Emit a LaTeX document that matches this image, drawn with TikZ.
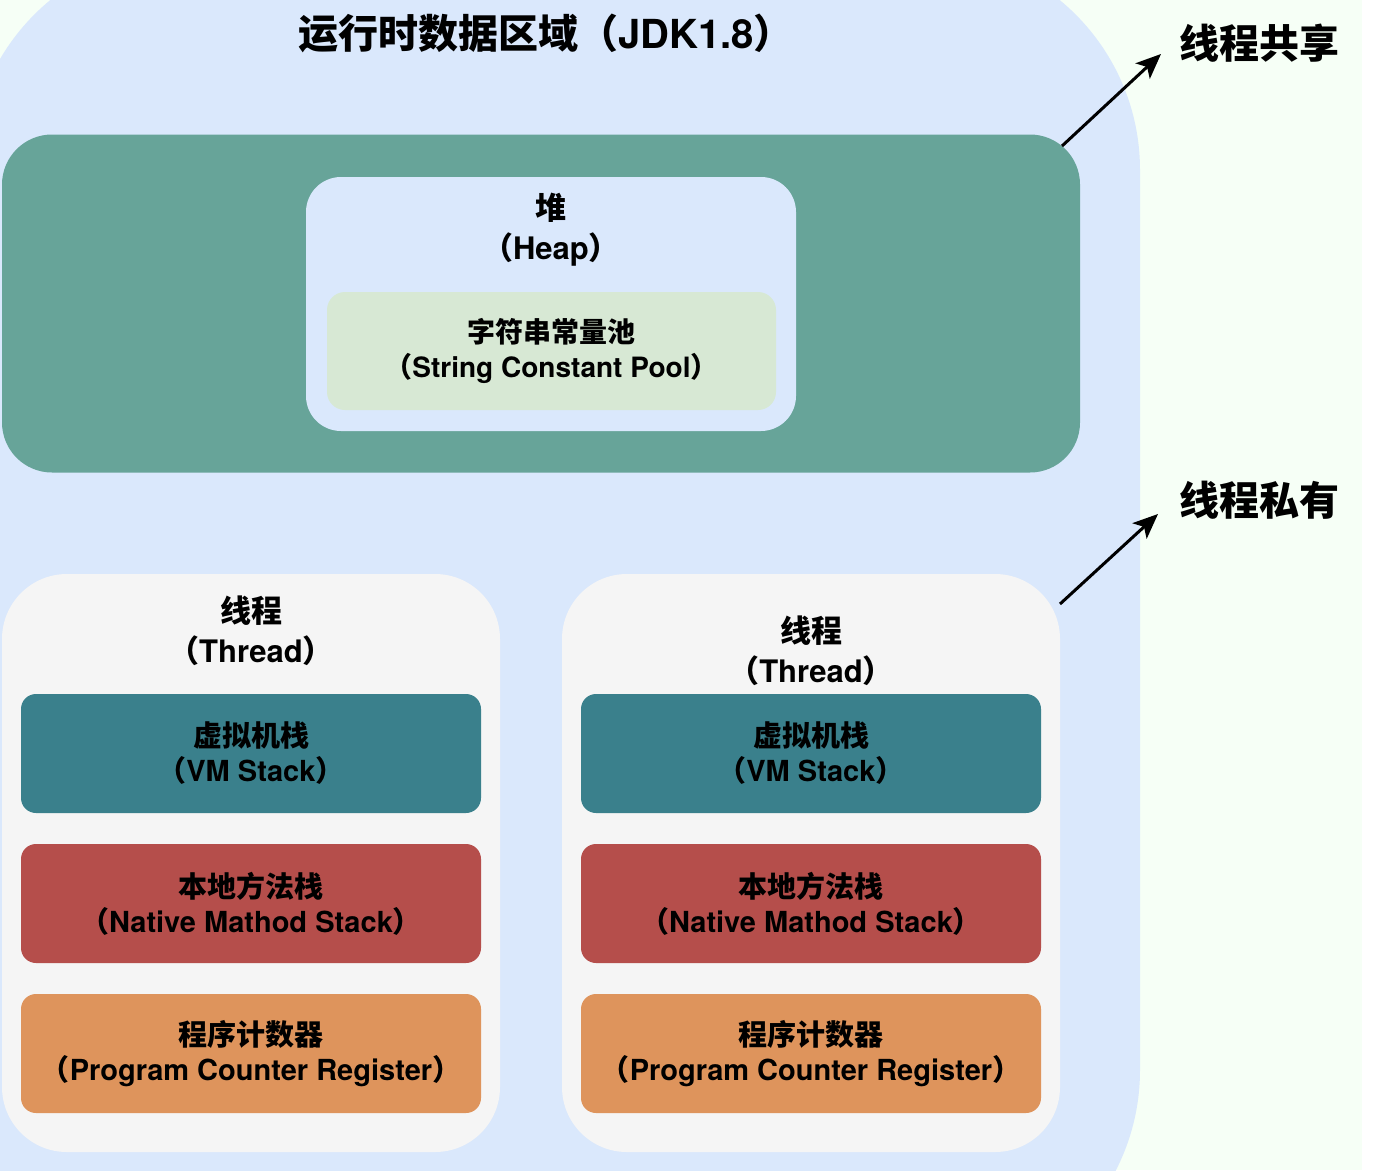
\documentclass[tikz,border=0pt]{standalone}
\usepackage{fontspec}
\setmainfont{texgyreheros-bold.otf}[BoldFont=texgyreheros-bold.otf]
\newfontfamily\cjk{Noto Sans CJK SC}
\newcommand\zlp{{\cjk （}}
\newcommand\zrp{{\cjk ）}}
\usetikzlibrary{arrows.meta}
\definecolor{mintbg}{RGB}{246,255,246}
\definecolor{regionblue}{RGB}{218,232,252}
\definecolor{sharedgreen}{RGB}{103,164,153}
\definecolor{poolgreen}{RGB}{215,232,212}
\definecolor{threadgray}{RGB}{245,245,245}
\definecolor{vmteal}{RGB}{58,128,140}
\definecolor{nativered}{RGB}{181,78,75}
\definecolor{pcorange}{RGB}{222,148,92}
\begin{document}
\begin{tikzpicture}[x=1pt,y=-1pt,
  rbox/.style={rounded corners=#1, inner sep=0pt, align=center},
  boxtext/.style={font=\fontsize{29}{35}\selectfont\bfseries},
  headtext/.style={inner sep=0pt, align=center, font=\fontsize{31}{40}\selectfont\bfseries},
  bigtext/.style={inner sep=0pt, font=\fontsize{40}{48}\selectfont\bfseries},
  stackbox/.style={rbox=15pt, boxtext, minimum width=460, minimum height=119},
  threadbox/.style={rbox=65pt, fill=threadgray, minimum width=498, minimum height=578},
  arr/.style={draw=black, line width=3pt, -{Stealth[length=25pt,width=21pt,inset=6pt]}}
]
\useasboundingbox (0,0) rectangle (1384,1170);
\clip (0,0) rectangle (1384,1170);
\fill[mintbg] (0,0) rectangle (1362,1170);
\fill[regionblue, rounded corners=220pt] (-30,-50) rectangle (1140,1290);

\node[bigtext] (title) at (546,33) {{\cjk 运行时数据区域}\zlp JDK1.8\zrp};

% shared area
\node[rbox=50pt, fill=sharedgreen, minimum width=1078, minimum height=338] (shared) at (541,303.5) {};
\node[rbox=35pt, fill=regionblue, minimum width=490, minimum height=254] (heap) at (551,304) {};
\node[headtext] (heaplabel) at (551,229.5) {{\cjk 堆}\\\zlp Heap\zrp};
\node[rbox=18pt, fill=poolgreen, minimum width=449, minimum height=118,
      font=\fontsize{28}{35}\selectfont\bfseries] (pool) at (551.5,351) {{\cjk 字符串常量池}\\\zlp String Constant Pool\zrp};

% threads
\node[threadbox] (threadL) at (251,863) {};
\node[threadbox] (threadR) at (811,863) {};
\node[headtext] (threadLlabel) at (251,631) {{\cjk 线程}\\\zlp Thread\zrp};
\node[headtext] (threadRlabel) at (811,651) {{\cjk 线程}\\\zlp Thread\zrp};

\node[stackbox, fill=vmteal] (vmL) at (251,753.5) {{\cjk 虚拟机栈}\\\zlp VM Stack\zrp};
\node[stackbox, fill=nativered] (nativeL) at (251,903.5) {{\cjk 本地方法栈}\\\zlp Native Mathod Stack\zrp};
\node[stackbox, fill=pcorange] (pcL) at (251,1053.5) {{\cjk 程序计数器}\\\zlp Program Counter Register\zrp};

\node[stackbox, fill=vmteal] (vmR) at (811,753.5) {{\cjk 虚拟机栈}\\\zlp VM Stack\zrp};
\node[stackbox, fill=nativered] (nativeR) at (811,903.5) {{\cjk 本地方法栈}\\\zlp Native Mathod Stack\zrp};
\node[stackbox, fill=pcorange] (pcR) at (811,1053.5) {{\cjk 程序计数器}\\\zlp Program Counter Register\zrp};

% side labels and arrows
\node[bigtext] (sharedlabel) at (1259,43) {\cjk 线程共享};
\node[bigtext] (privatelabel) at (1259,500) {\cjk 线程私有};
\coordinate (a1s) at (1062,146);
\coordinate (a1e) at (1161,54);
\coordinate (a2s) at (1060,604);
\coordinate (a2e) at (1158,514);
\draw[arr] (a1s) -- (a1e);
\draw[arr] (a2s) -- (a2e);
\end{tikzpicture}
\end{document}
